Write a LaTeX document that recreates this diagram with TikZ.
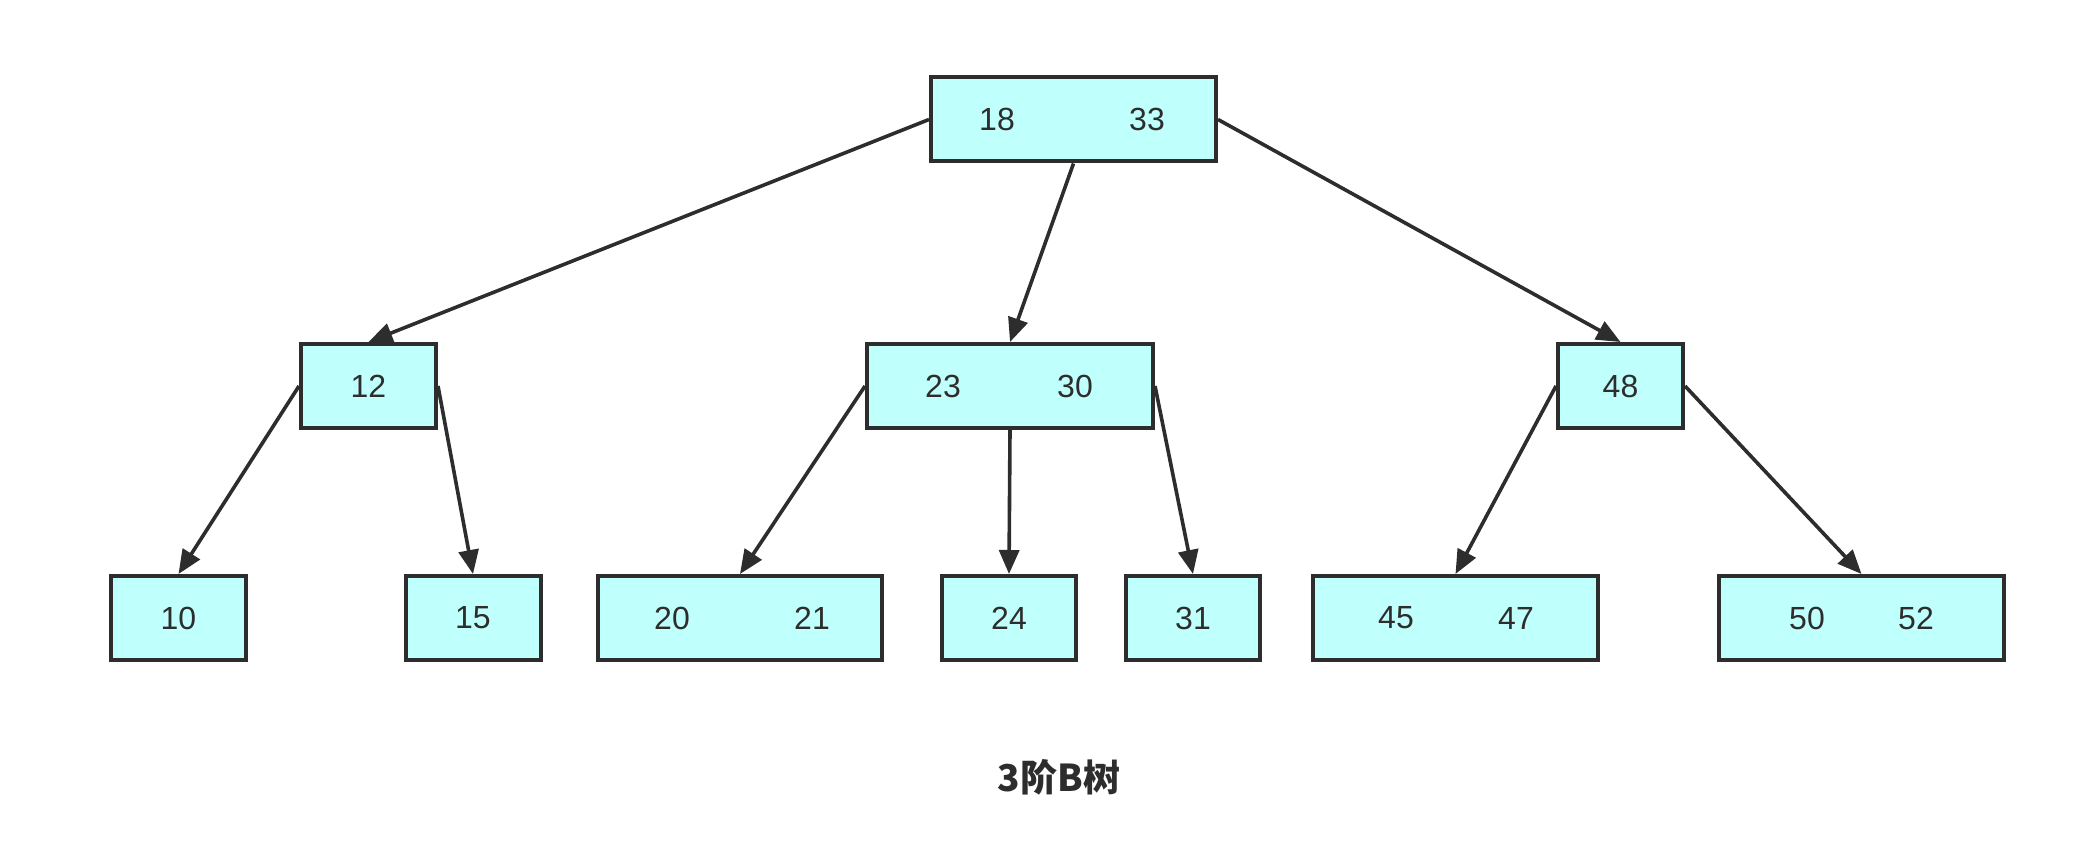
\documentclass[tikz,border=0pt]{standalone}
\usepackage{fontspec}
\setmainfont{Liberation Sans}
\newfontfamily\cjk{Noto Sans CJK SC}
\usetikzlibrary{arrows.meta}
\definecolor{boxfill}{RGB}{191,255,252}
\definecolor{ink}{RGB}{45,45,45}
\tikzset{
  bnode/.style={draw=ink, fill=boxfill, line width=2pt, minimum height=42pt, inner sep=0pt, rectangle},
  num/.style={text=ink, font=\fontsize{16}{18}\selectfont, inner sep=0pt},
  edge/.style={draw=ink, line width=1.8pt, -{Triangle[length=12pt,width=10pt]}},
}
\begin{document}
\begin{tikzpicture}[x=0.5pt,y=-0.5pt]
\useasboundingbox (0,0) rectangle (2094,866);
% level 1
\node[bnode, minimum width=142.5pt] (root) at (1073.5,119.5) {};
\node[num] (t18) at (997,119.5) {18};
\node[num] (t33) at (1147,119.5) {33};
% level 2
\node[bnode, minimum width=67.5pt] (n12) at (368.5,386) {};
\node[num] (t12) at (368.5,386) {12};
\node[bnode, minimum width=143pt] (nmid) at (1010,386) {};
\node[num] (t23) at (943,386) {23};
\node[num] (t30) at (1075,386) {30};
\node[bnode, minimum width=62.5pt] (n48) at (1620.5,386) {};
\node[num] (t48) at (1620.5,386) {48};
% level 3
\node[bnode, minimum width=67.5pt] (n10) at (178.5,618) {};
\node[num] (t10) at (178.5,618) {10};
\node[bnode, minimum width=67.5pt] (n15) at (473,618) {};
\node[num] (t15) at (473,618) {15};
\node[bnode, minimum width=142pt] (n2021) at (740,618) {};
\node[num] (t20) at (672,618) {20};
\node[num] (t21) at (812,618) {21};
\node[bnode, minimum width=67pt] (n24) at (1009,618) {};
\node[num] (t24) at (1009,618) {24};
\node[bnode, minimum width=67pt] (n31) at (1193,618) {};
\node[num] (t31) at (1193,618) {31};
\node[bnode, minimum width=142.5pt] (n4547) at (1455.5,618) {};
\node[num] (t45) at (1396,618) {45};
\node[num] (t47) at (1516,618) {47};
\node[bnode, minimum width=142.5pt] (n5052) at (1861.5,618) {};
\node[num] (t50) at (1807,618) {50};
\node[num] (t52) at (1916,618) {52};
% edges
\draw[edge] (root.west) -- (n12.north);
\draw[edge] (root.south) -- (nmid.north);
\draw[edge] (root.east) -- (n48.north);
\draw[edge] (n12.west) -- (n10.north);
\draw[edge] (n12.east) -- (n15.north);
\draw[edge] (nmid.west) -- (n2021.north);
\draw[edge] (nmid.south) -- (n24.north);
\draw[edge] (nmid.east) -- (n31.north);
\draw[edge] (n48.west) -- (n4547.north);
\draw[edge] (n48.east) -- (n5052.north);
% title
\node[text=ink, font=\cjk\bfseries\fontsize{18.5}{20}\selectfont, inner sep=0pt] (title) at (1059,777) {3阶B树};
\end{tikzpicture}
\end{document}
